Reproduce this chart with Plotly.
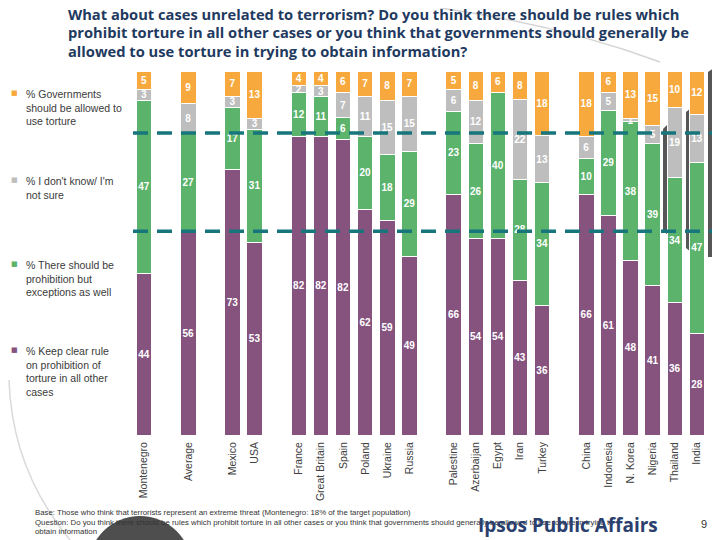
import plotly.graph_objects as go

groups = [
    ["Montenegro"],
    ["Average"],
    ["Mexico", "USA"],
    ["France", "Great Britain", "Spain", "Poland", "Ukraine", "Russia"],
    ["Palestine", "Azerbaijan", "Egypt", "Iran", "Turkey"],
    ["China", "Indonesia", "N. Korea", "Nigeria", "Thailand", "India"],
]
countries = [c for g in groups for c in g]

keep_clear = [44, 56, 73, 53, 82, 82, 82, 62, 59, 49, 66, 54, 54, 43, 36, 66, 61, 48, 41, 36, 28]
exceptions = [47, 27, 17, 31, 12, 11, 6, 20, 18, 29, 23, 26, 40, 28, 34, 10, 29, 38, 39, 34, 47]
dont_know = [3, 8, 3, 3, 2, 3, 7, 11, 15, 15, 6, 12, 0, 22, 13, 6, 5, 1, 5, 19, 13]
allowed = [5, 9, 7, 13, 4, 4, 6, 7, 8, 7, 5, 8, 6, 8, 18, 18, 6, 13, 15, 10, 12]

series_names = [
    "% Keep clear rule on prohibition of torture in all other cases",
    "% There should be prohibition but exceptions as well",
    "% I don't know/ I'm not sure",
    "% Governments should be allowed to use torture",
]
colors = ["#86537F", "#5BB36C", "#BEBEBE", "#F8A93D"]

# x positions: one empty slot between groups
positions = []
p = 0
for g in groups:
    for _ in g:
        positions.append(p)
        p += 1
    p += 1
xmax = positions[-1]

# The page body has an 8px margin, so the figure is drawn 8px smaller and
# all layout positions below are expressed in window pixels.
OFF = 8
W, H = 720 - OFF, 540 - OFF
PLOT_L, PLOT_R, PLOT_T, PLOT_B = 133, 708, 71, 435   # window pixels
L, R, T, B = PLOT_L - OFF, 720 - PLOT_R, PLOT_T - OFF, 540 - PLOT_B
PW, PH = PLOT_R - PLOT_L, PLOT_B - PLOT_T


def px(x):
    return (x - PLOT_L) / PW


def py(y):
    return (PLOT_B - y) / PH


fig = go.Figure()
for name, vals, col in zip(series_names, [keep_clear, exceptions, dont_know, allowed], colors):
    fig.add_trace(go.Bar(
        x=positions, y=vals, name=name, text=[str(v) for v in vals],
        textposition="inside", insidetextanchor="middle", textangle=0,
        textfont=dict(family="Liberation Sans", size=10, color="white", weight="bold"),
        marker=dict(color=col, line=dict(color="white", width=1)),
        width=0.7, showlegend=False, hoverinfo="skip",
    ))

# dashed reference lines at the Average levels
avg_i = countries.index("Average")
levels = [keep_clear[avg_i], keep_clear[avg_i] + exceptions[avg_i]]
shapes = []
for lv in levels:
    shapes.append(dict(type="line", xref="paper", yref="y", x0=0, x1=px(720), y0=lv, y1=lv,
                       line=dict(color="#17767C", width=3.5, dash="15px,9px"), layer="above"))

# decorative template shapes
shapes += [
    dict(type="path", xref="paper", yref="paper",
         path=f"M {px(708)} {py(72)} L {px(720)} {py(64)} L {px(720)} {py(257)} L {px(708)} {py(257)} Z",
         fillcolor="#565656", line=dict(width=0), layer="below"),
    dict(type="path", xref="paper", yref="paper",
         path=f"M {px(686)} {py(112)} L {px(691)} {py(108)} L {px(691)} {py(252)} L {px(686)} {py(248)} Z",
         fillcolor="#565656", line=dict(width=0), layer="below"),
    dict(type="path", xref="paper", yref="paper",
         path=f"M {px(663)} {py(129)} L {px(668)} {py(124)} L {px(668)} {py(235)} L {px(663)} {py(231)} Z",
         fillcolor="#565656", line=dict(width=0), layer="below"),
    dict(type="circle", xref="paper", yref="paper",
         x0=px(88), x1=px(192), y0=py(620), y1=py(516),
         fillcolor="#4E4E4E", line=dict(width=0), layer="above"),
    dict(type="path", xref="paper", yref="paper",
         path=f"M {px(440)} {py(8)} Q {px(560)} {py(25)} {px(660)} {py(62)}",
         line=dict(color="#D5D5D5", width=1.5), layer="below"),
    dict(type="path", xref="paper", yref="paper",
         path=f"M {px(9)} {py(380)} Q {px(12)} {py(470)} {px(70)} {py(540)}",
         line=dict(color="#DADADA", width=1.5), layer="below"),
]

annotations = []
title_lines = [
    ("What about cases unrelated to terrorism? Do you think there should be rules which", 14),
    ("prohibit torture in all other cases or you think that governments should generally be", 32.5),
    ("allowed to use torture in trying to obtain information?", 51),
]
for txt, yy in title_lines:
    annotations.append(dict(text=txt, xref="paper", yref="paper", x=px(66), y=py(yy),
                            xanchor="left", yanchor="middle", showarrow=False,
                            font=dict(family="Open Sans", size=14.7, color="#1F3A5F", weight="bold")))

legend_items = [
    ("% Governments<br>should be allowed to<br>use torture", colors[3], 86),
    ("% I don't know/ I'm<br>not sure", colors[2], 173),
    ("% There should be<br>prohibition but<br>exceptions as well", colors[1], 257),
    ("% Keep clear rule<br>on prohibition of<br>torture in all other<br>cases", colors[0], 343),
]
for txt, col, yy in legend_items:
    annotations.append(dict(text=txt, xref="paper", yref="paper", x=px(24), y=py(yy),
                            xanchor="left", yanchor="top", align="left", showarrow=False,
                            font=dict(family="Liberation Sans", size=10.5, color="#3A3A3A")))
    annotations.append(dict(text="■", xref="paper", yref="paper", x=px(20), y=py(yy + 7),
                            xanchor="right", yanchor="middle", showarrow=False,
                            font=dict(family="DejaVu Sans", size=7, color=col)))

footer = [
    ("Base: Those who think that terrorists represent an extreme threat (Montenegro: 18% of the target population)", 513),
    ("Question: Do you think there should be rules which prohibit torture in all other cases or you think that governments should generally be allowed to use torture in trying to", 522),
    ("obtain information", 531),
]
for txt, yy in footer:
    annotations.append(dict(text=txt, xref="paper", yref="paper", x=px(33), y=py(yy),
                            xanchor="left", yanchor="middle", showarrow=False,
                            font=dict(family="Liberation Sans", size=7.8, color="#333333")))

annotations.append(dict(text="Ipsos Public Affairs", xref="paper", yref="paper", x=px(568), y=py(525),
                        xanchor="center", yanchor="middle", showarrow=False,
                        font=dict(family="Open Sans", size=19, color="#2B3F6E", weight="bold")))
annotations.append(dict(text="9", xref="paper", yref="paper", x=px(704), y=py(524),
                        xanchor="center", yanchor="middle", showarrow=False,
                        font=dict(family="Liberation Sans", size=11, color="#333333")))

fig.update_layout(
    width=W, height=H, margin=dict(l=L, r=R, t=T, b=B),
    barmode="stack", barnorm="percent",
    paper_bgcolor="white", plot_bgcolor="white",
    uniformtext=dict(minsize=10, mode="show"),
    shapes=shapes, annotations=annotations,
    xaxis=dict(range=[-0.5, xmax + 0.5], tickmode="array", tickvals=positions, ticktext=countries,
               tickangle=-90, showgrid=False, zeroline=False, showline=False, ticks="",
               ticklabelstandoff=4,
               tickfont=dict(family="Liberation Sans", size=10.5, color="#404040")),
    yaxis=dict(range=[0, 100], visible=False, showgrid=False, zeroline=False),
)

fig.write_html("out.html")
